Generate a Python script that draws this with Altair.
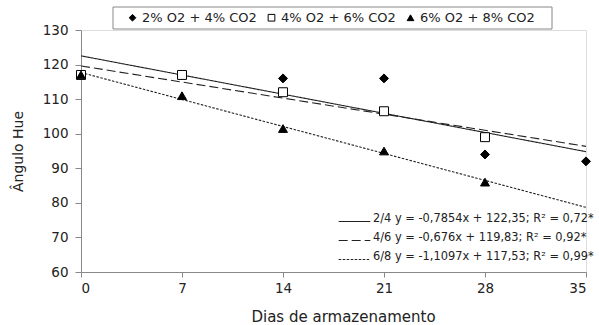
import altair as alt
import pandas as pd

days = [0, 7, 14, 21, 28, 35]
y_ticks = [60, 70, 80, 90, 100, 110, 120, 130]
series_names = ["2% O2 + 4% CO2", "4% O2 + 6% CO2", "6% O2 + 8% CO2"]
eq_labels = [
    "2/4 y = -0,7854x + 122,35; R² = 0,72*",
    "4/6 y = -0,676x + 119,83; R² = 0,92*",
    "6/8 y = -1,1097x + 117,53; R² = 0,99*",
]
vals_24 = [117, 117, 116, 116, 94, 92]
vals_46 = [117, 117, 112, 106.5, 99, None]
vals_68 = [117, 111, 101.5, 95, 86, None]

rows = []
for name, eq, vals in zip(series_names, eq_labels, [vals_24, vals_46, vals_68]):
    for d, v in zip(days, vals):
        if v is not None:
            rows.append({"series": name, "eq": eq, "day": d, "value": v})
df = pd.DataFrame(rows)

FONT = "DejaVu Sans"

xscale = alt.Scale(domain=[0, 35], nice=False)
yscale = alt.Scale(domain=[60, 130], nice=False)

xaxis = alt.Axis(values=days, title="Dias de armazenamento", grid=False,
                 labelFontSize=13.5, titleFontSize=15, titleFontWeight="normal",
                 labelPadding=4, tickSize=5, titlePadding=15, labelOverlap=False,
                 titleX=262,
                 domainColor="#888", tickColor="#888", labelColor="#222", titleColor="#222")
yaxis = alt.Axis(values=y_ticks, title="Ângulo Hue", grid=False,
                 labelFontSize=13.5, titleFontSize=14, titleFontWeight="normal",
                 labelPadding=7, tickSize=6, titlePadding=17, labelOverlap=False,
                 domainColor="#888", tickColor="#888", labelColor="#222", titleColor="#222")

X = alt.X("day:Q", scale=xscale, axis=xaxis)
Y = alt.Y("value:Q", scale=yscale, axis=yaxis)

base = alt.Chart(df)

lines = base.transform_regression(
    "day", "value", groupby=["eq"], extent=[0, 35], method="linear"
).mark_line(color="#222", strokeWidth=1.1, clip=True).encode(
    x=X, y=Y,
    strokeDash=alt.StrokeDash(
        "eq:N",
        scale=alt.Scale(domain=eq_labels, range=[[1, 0], [9, 4], [2.5, 1.5]]),
        legend=alt.Legend(
            title=None, orient="none", legendX=257, legendY=175,
            symbolType="stroke", symbolSize=1000, symbolStrokeWidth=1.1,
            symbolStrokeColor="#222", labelFontSize=11.4, labelFont=FONT,
            labelLimit=400, rowPadding=-5.5, labelOffset=2, labelColor="#222",
            labelBaseline="alphabetic",
        ),
    ),
)

# legend box (decoration)
box = alt.Chart(pd.DataFrame({"k": [0]})).mark_rect(
    fill="white", stroke="#888", strokeWidth=1
).encode(x=alt.value(32), x2=alt.value(471), y=alt.value(-23), y2=alt.value(-1))

points = base.mark_point(filled=False, color="black", strokeWidth=1, opacity=1, size=80).encode(
    x=X, y=Y,
    shape=alt.Shape("series:N",
                    scale=alt.Scale(domain=series_names, range=["diamond", "square", "triangle-up"]),
                    legend=alt.Legend(
                        title=None, orient="none", legendX=45, legendY=-19,
                        direction="horizontal", columns=3, padding=0,
                        columnPadding=8, symbolSize=45, symbolStrokeWidth=1,
                        labelFontSize=13, labelFont=FONT,
                        labelOffset=3, labelColor="#222",
                    )),
    fill=alt.Fill("series:N",
                  scale=alt.Scale(domain=series_names, range=["black", "white", "black"])),
)

chart = alt.layer(box, lines, points).properties(
    width=505, height=242,
    padding={"left": 81, "top": 30, "right": 13, "bottom": 53},
    autosize=alt.AutoSizeParams(type="none"),
).configure_view(stroke=None).configure(font=FONT)

chart.save("out.html", embed_options={"renderer": "svg", "actions": False})
